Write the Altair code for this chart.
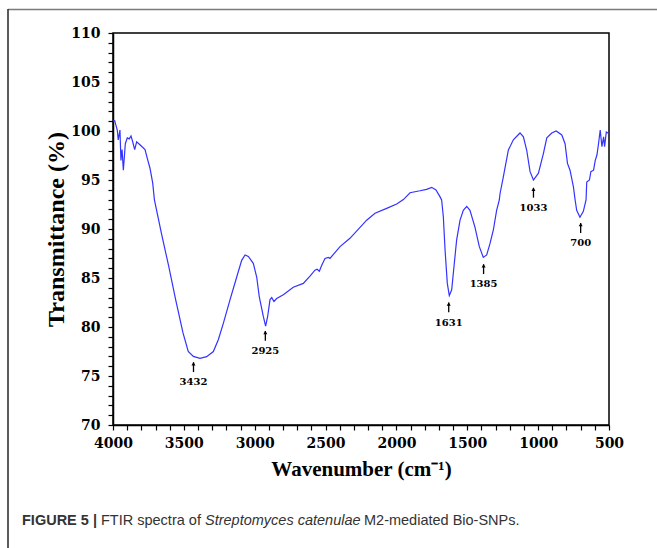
import altair as alt
import pandas as pd

# ---- spectrum ----
wavenumber = [4000, 3988, 3970, 3963, 3951, 3944, 3936, 3927, 3913, 3899, 3885, 3873,
              3861, 3847, 3833, 3810, 3774, 3758, 3739, 3720, 3708, 3659, 3607, 3558,
              3506, 3469, 3433, 3386, 3339, 3292, 3257, 3221, 3174, 3127, 3092, 3068,
              3045, 3010, 2986, 2968, 2939, 2923, 2909, 2892, 2880, 2864, 2845, 2798,
              2728, 2657, 2610, 2575, 2560, 2544, 2527, 2504, 2480, 2469, 2398, 2328,
              2210, 2151, 2069, 1998, 1951, 1904, 1834, 1787, 1751, 1721, 1693, 1681,
              1669, 1657, 1641, 1627, 1610, 1594, 1575, 1551, 1528, 1504, 1481, 1446,
              1415, 1387, 1363, 1340, 1316, 1293, 1274, 1269, 1246, 1210, 1175, 1128,
              1104, 1081, 1057, 1033, 998, 963, 939, 904, 873, 833, 810, 793, 775, 751,
              739, 728, 705, 681, 662, 657, 638, 628, 609, 597, 585, 574, 562, 550, 538,
              531, 519, 507, 500]
transmittance = [101.0, 101.05, 100.1, 99.1, 100.1, 97.0, 98.1, 96.0, 98.7, 99.3, 99.2, 99.5,
                 98.9, 98.1, 98.9, 98.6, 98.1, 97.2, 96.2, 94.7, 93.0, 89.6, 86.2, 82.8,
                 79.4, 77.5, 77.0, 76.8, 76.97, 77.5, 78.7, 80.4, 82.8, 85.1, 86.8, 87.35,
                 87.2, 86.5, 85.1, 83.1, 81.05, 80.1, 81.05, 82.8, 83.0, 82.6, 82.9, 83.3,
                 84.05, 84.45, 85.2, 85.8, 85.9, 85.7, 86.3, 87.0, 87.1, 87.0, 88.2, 89.05,
                 90.9, 91.6, 92.1, 92.55, 93.0, 93.7, 93.9, 94.05, 94.25, 93.98, 93.3, 92.96,
                 91.25, 87.9, 84.45, 83.2, 83.8, 86.15, 88.9, 90.9, 91.9, 92.3, 91.9, 90.2,
                 88.2, 87.1, 87.35, 88.5, 89.9, 91.9, 92.96, 93.6, 95.3, 98.06, 99.1, 99.8,
                 99.4, 98.06, 95.85, 95.0, 95.7, 97.7, 99.3, 99.8, 100.0, 99.6, 98.7, 96.7, 96.0, 94.3,
                 92.96, 91.9, 91.2, 91.8, 92.96, 94.8, 95.0, 95.85, 96.0, 97.0, 97.55, 98.7, 100.1, 98.4, 99.4,
                 98.4, 99.9, 99.8, 99.7]

# ---- peak annotations ----
peak_wavenumbers = [3432, 2925, 1631, 1385, 1033, 700]
peak_arrow_tip = [76.4, 79.6, 82.5, 86.4, 94.2, 90.6]
peak_labels = ["3432", "2925", "1631", "1385", "1033", "700"]

# ---- axis ticks ----
x_ticks = list(range(500, 4001, 100))
y_ticks = list(range(70, 111, 1))

caption_parts = ["FIGURE 5 |", "FTIR spectra of", "Streptomyces catenulae", "M2-mediated Bio-SNPs."]

W, H = 496, 392
LABEL_FONT = "DejaVu Serif"
TITLE_FONT = "Liberation Serif"
CAP_FONT = "Liberation Sans, Arial, sans-serif"

spec = pd.DataFrame({"w": wavenumber, "t": transmittance}).reset_index()
peaks = pd.DataFrame({"w": peak_wavenumbers, "tip": peak_arrow_tip, "label": peak_labels})
peaks["tail"] = peaks["tip"] - 1.0
one = pd.DataFrame({"k": [0]})

xscale = alt.Scale(domain=[500, 4000], reverse=True, nice=False, zero=False)
yscale = alt.Scale(domain=[70, 110], nice=False, zero=False)

x_axis = alt.Axis(values=x_ticks, tickCount=200, format="d",
                  labelExpr="datum.value % 500 == 0 ? datum.label : ''",
                  labelOverlap=False, labelFlush=False,
                  labelFont=LABEL_FONT, labelFontWeight="bold", labelFontSize=14,
                  labelColor="black", labelPadding=6,
                  tickSize=5, tickColor="black", tickWidth=1.2,
                  domainColor="black", domainWidth=1.5, grid=False,
                  title="Wavenumber (cm⁻¹)", titleFont=TITLE_FONT, titleFontSize=21,
                  titleFontWeight="bold", titleColor="black", titlePadding=8)
y_axis = alt.Axis(values=y_ticks, tickCount=200, format="d",
                  labelExpr="datum.value % 5 == 0 ? datum.label : ''",
                  labelOverlap=False, labelFlush=False,
                  labelFont=LABEL_FONT, labelFontWeight="bold", labelFontSize=14,
                  labelColor="black", labelPadding=8,
                  tickSize=5, tickColor="black", tickWidth=1.2,
                  domainColor="black", domainWidth=1.5, grid=False,
                  title="Transmittance (%)", titleFont=TITLE_FONT, titleFontSize=24,
                  titleFontWeight="bold", titleColor="black",
                  titleX=-57, titleY=H / 2, titleBaseline="middle", titleAlign="center")

line = alt.Chart(spec).mark_line(color="#3333ff", strokeWidth=1.2).encode(
    x=alt.X("w:Q", scale=xscale, axis=x_axis),
    y=alt.Y("t:Q", scale=yscale, axis=y_axis),
    order="index:Q",
)

shafts = alt.Chart(peaks).mark_rule(color="black", strokeWidth=1.3).encode(
    x="w:Q", y="tip:Q", y2="tail:Q")
heads = alt.Chart(peaks).mark_point(shape="triangle-up", filled=True, size=16,
                                    color="black", opacity=1, yOffset=1.5).encode(
    x="w:Q", y="tip:Q")
labels = alt.Chart(peaks).mark_text(font=LABEL_FONT, fontWeight="bold", fontSize=10,
                                    color="black", dy=20, baseline="middle").encode(
    x="w:Q", y="tip:Q", text="label:N")

# figure frame (top gray line, left dark line)
top_line = alt.Chart(one).mark_rule(color="#7a7a7a", strokeWidth=1.6).encode(
    x=alt.value(-105), x2=alt.value(560), y=alt.value(-23.5))
left_line = alt.Chart(one).mark_rule(color="#333333", strokeWidth=1.6).encode(
    x=alt.value(-105), y=alt.value(-24), y2=alt.value(530))

cap_y = 488
cap_styles = [("bold", "normal", -91), ("normal", "normal", -12),
              ("normal", "italic", 92), ("normal", "normal", 251)]
caption_layers = []
for txt, (fw, fs, xpos) in zip(caption_parts, cap_styles):
    caption_layers.append(
        alt.Chart(pd.DataFrame({"t": [txt]})).mark_text(
            font=CAP_FONT, fontSize=14.5, fontWeight=fw, fontStyle=fs, color="#333333",
            align="left", baseline="middle").encode(
            x=alt.value(xpos), y=alt.value(cap_y), text="t:N"))

chart = alt.layer(line, shafts, heads, labels, top_line, left_line, *caption_layers).properties(
    width=W, height=H,
    autosize=alt.AutoSizeParams(type="none"),
    padding={"left": 113, "top": 33, "right": 48, "bottom": 123},
    background="white",
).configure_view(stroke="black", strokeWidth=1.5)

chart.save("out.html", embed_options={"renderer": "svg", "actions": False})
